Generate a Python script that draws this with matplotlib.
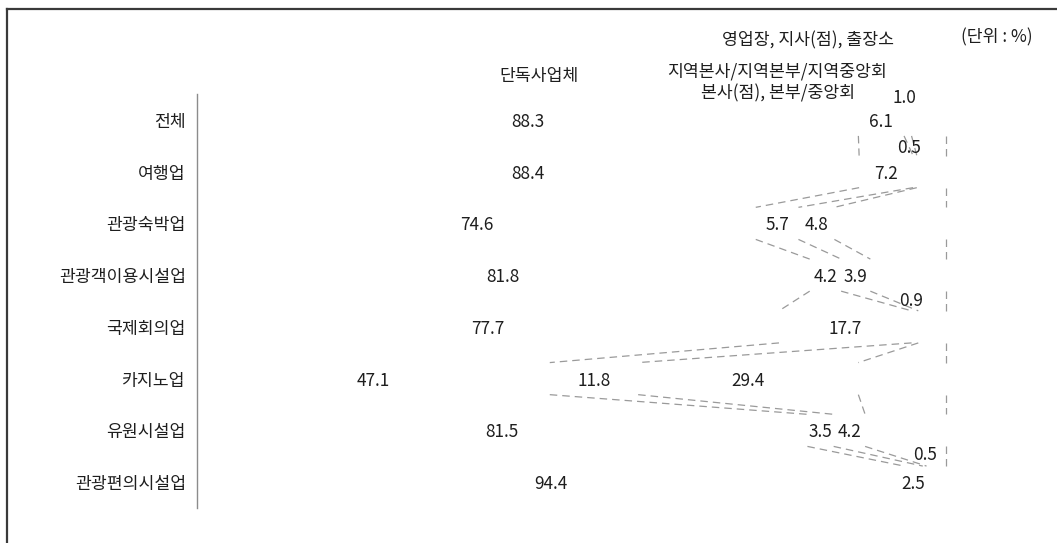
import numpy as np
import matplotlib.pyplot as plt
from matplotlib.lines import Line2D

plt.rcParams['font.family'] = ['Noto Sans CJK KR', 'DejaVu Sans']

### 데이터
categories = ['전체', '여행업', '관광숙박업', '관광객이용시설업',
              '국제회의업', '카지노업', '유원시설업', '관광편의시설업']
series_names = ['단독사업체', '본사(점), 본부/중앙회',
                '지역본사/지역본부/지역중앙회', '영업장, 지사(점), 출장소']
s_single = [88.3, 88.4, 74.6, 81.8, 77.7, 47.1, 81.5, 94.4]
s_head = [6.1, 7.2, 5.7, 4.2, 17.7, 11.8, 3.5, 2.5]
s_region = [1.0, 0.5, 4.8, 3.9, 0.9, 29.4, 4.2, 0.5]
s_branch = [4.6, 3.9, 14.9, 10.1, 3.7, 11.7, 10.8, 2.6]   # 라벨 없음
labeled = [True, True, True, False]

### 스타일
W, H = 1057, 543
txt_color = '#1e1e1e'
line_color = '#9a9a9a'
bar_h = 0.62
fs = 12.4
# 작은 값 라벨의 위치 이동 (px)
label_shift = {(0, 2): (-3, -24), (1, 2): (-6, -26),
               (4, 2): (-4, -28), (7, 2): (0, -29)}

fig = plt.figure(figsize=(W / 100, H / 100), dpi=100)
ax = fig.add_axes([197 / W, (H - 508) / H, 749 / W, 414 / H])

vals = np.array([s_single, s_head, s_region, s_branch]).T
cum = np.cumsum(vals, axis=1)
y = np.arange(len(categories))

left = np.zeros(len(categories))
for k in range(vals.shape[1]):
    ax.barh(y, vals[:, k], left=left, height=bar_h, color='none')
    left = left + vals[:, k]

### 계열선
for i in range(len(categories) - 1):
    for k in range(vals.shape[1]):
        ax.plot([cum[i, k], cum[i + 1, k]],
                [i + bar_h / 2, i + 1 - bar_h / 2],
                color=line_color, lw=0.9, linestyle=(0, (6, 4)), clip_on=False)

### 값 라벨
for i in range(len(categories)):
    start = 0.0
    for k in range(vals.shape[1]):
        v = vals[i, k]
        if labeled[k]:
            dx, dy = label_shift.get((i, k), (0, 0))
            ax.annotate(f'{v:.1f}', (start + v / 2, i + 0.04),
                        xytext=(dx * 0.72, -dy * 0.72), textcoords='offset points',
                        ha='center', va='center', fontsize=fs, color=txt_color)
        start += v

ax.set_xlim(0, 100)
ax.set_ylim(len(categories) - 0.5, -0.5)
ax.set_yticks(y)
ax.set_yticklabels(categories, fontsize=fs, color=txt_color)
ax.tick_params(axis='y', length=0, pad=8)
ax.set_xticks([])
for s in ['top', 'right', 'bottom']:
    ax.spines[s].set_visible(False)
ax.spines['left'].set_color('#8c8c8c')
ax.spines['left'].set_linewidth(1.0)

### 계열 이름 / 단위
fig.text(539 / W, 1 - 76 / H, series_names[0], ha='center', va='center',
         fontsize=fs, color=txt_color)
fig.text(778 / W, 1 - 93 / H, series_names[1], ha='center', va='center',
         fontsize=fs, color=txt_color)
fig.text(777 / W, 1 - 72 / H, series_names[2], ha='center', va='center',
         fontsize=fs, color=txt_color)
fig.text(808 / W, 1 - 40 / H, series_names[3], ha='center', va='center',
         fontsize=fs, color=txt_color)
fig.text(997 / W, 1 - 37 / H, '(단위 : %)', ha='center', va='center',
         fontsize=fs, color=txt_color)

### 테두리
fig.add_artist(Line2D([7 / W, 1], [1 - 9 / H, 1 - 9 / H], color='#3a3a3a', lw=1.6))
fig.add_artist(Line2D([7 / W, 7 / W], [0, 1 - 9 / H], color='#3a3a3a', lw=1.6))

plt.savefig('out.png', dpi=100)
